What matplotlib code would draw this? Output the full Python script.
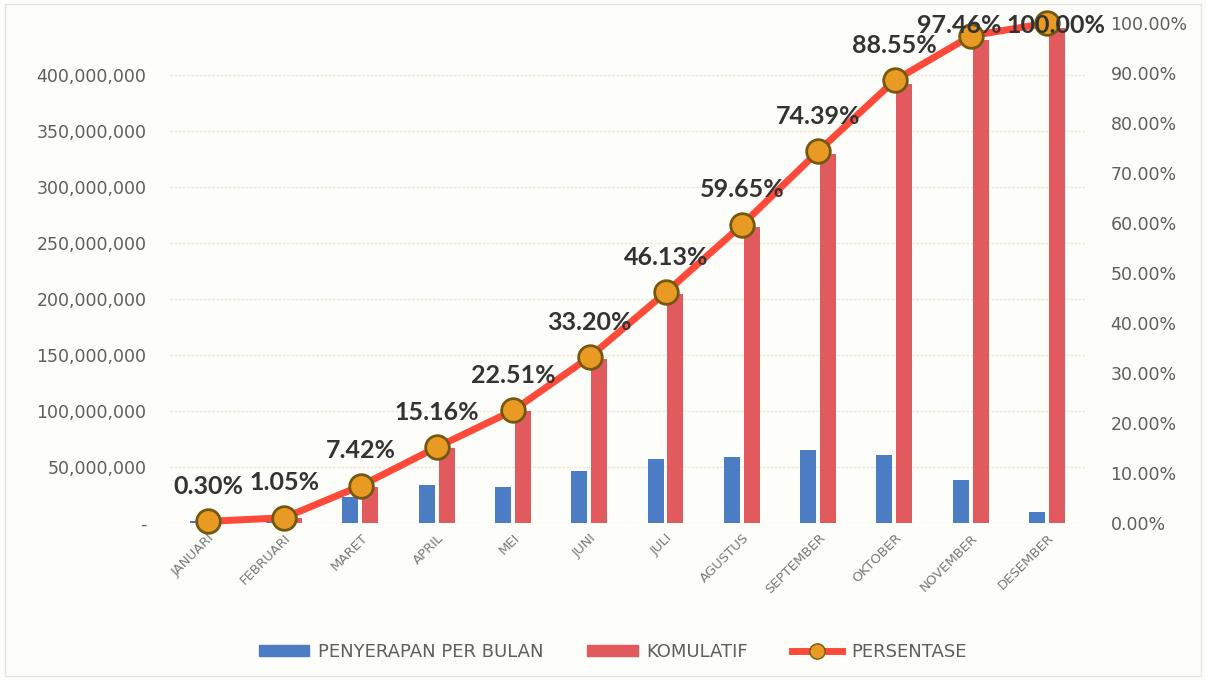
import numpy as np
import matplotlib.pyplot as plt
from matplotlib.ticker import FuncFormatter
from matplotlib.lines import Line2D
from matplotlib.patches import Patch, Rectangle

bulan = ['JANUARI', 'FEBRUARI', 'MARET', 'APRIL', 'MEI', 'JUNI', 'JULI',
         'AGUSTUS', 'SEPTEMBER', 'OKTOBER', 'NOVEMBER', 'DESEMBER']
# nilai dalam juta rupiah
penyerapan = [1.3, 3.3, 23.0, 34.0, 32.4, 46.5, 57.0, 58.8, 64.8, 61.0, 38.0, 9.8]
komulatif = [1.3, 4.6, 32.0, 67.0, 99.5, 146.7, 203.9, 263.7, 328.8, 391.4, 430.8, 442.0]
persentase = [0.30, 1.05, 7.42, 15.16, 22.51, 33.20, 46.13, 59.65, 74.39, 88.55, 97.46, 100.00]

biru = '#4C7CC4'
merah = '#E05A5E'
garis = '#FF4A3A'
teks = '#5E5E5E'

fig = plt.figure(figsize=(12.06, 6.8), dpi=100, facecolor='#FDFDF9')
ax = fig.add_axes([0.141, 0.231, 0.759, 0.735])
ax.set_facecolor('none')
fig.patches.append(Rectangle((0.004, 0.006), 0.992, 0.988, transform=fig.transFigure,
                             fill=False, edgecolor='#E4E4DA', lw=1))

x = np.arange(len(bulan))
w = 0.21
ax.bar(x - 0.135, np.array(penyerapan) * 1e6, w, color=biru, zorder=2)
ax.bar(x + 0.125, np.array(komulatif) * 1e6, w, color=merah, zorder=2)

ax.set_xlim(-0.5, len(bulan) - 0.5)
ax.set_ylim(0, 446e6)
ax.set_yticks(np.arange(0, 400e6 + 1, 50e6))
ax.yaxis.set_major_formatter(FuncFormatter(lambda v, p: '-' if v == 0 else '{:,.0f}'.format(v)))
ax.grid(axis='y', color='#EEEAD2', lw=1, ls=(0, (2, 1)), zorder=0)
for s in ax.spines.values():
    s.set_visible(False)
ax.tick_params(axis='y', length=0, pad=17, labelsize=12.5, labelcolor=teks)
ax.tick_params(axis='x', length=0, pad=6)
ax.set_xticks(x)
ax.set_xticklabels(bulan, rotation=45, ha='right', rotation_mode='anchor',
                   fontsize=9.5, color='#7A7A7A')

ax2 = ax.twinx()
ax2.set_ylim(0, 1.0)
ax2.set_yticks(np.arange(0, 1.01, 0.1))
ax2.yaxis.set_major_formatter(FuncFormatter(lambda v, p: '{:.2f}%'.format(v * 100)))
for s in ax2.spines.values():
    s.set_visible(False)
ax2.tick_params(axis='y', length=0, pad=18, labelsize=12.5, labelcolor=teks)

p = np.array(persentase) / 100
ax2.plot(x, p, color=garis, lw=5, zorder=3, clip_on=False)
ax2.plot(x, p, ls='none', marker='o', ms=17, mfc='#E99A22', mec='#735812', mew=2,
         zorder=4, clip_on=False)
# geser horizontal untuk dua label teratas supaya tidak bertumpuk
geser = {10: -0.15, 11: 0.12}
for i, (xi, pi, lab) in enumerate(zip(x, p, persentase)):
    # label di atas titik, dijepit di tepi atas area plot seperti di Excel
    yl = min(pi + 0.07, 0.995)
    ax2.annotate('{:.2f}%'.format(lab), (xi, pi), xytext=(xi + geser.get(i, 0), yl),
                 textcoords='data', ha='center', va='center', fontsize=18,
                 fontweight='bold', color='#333333', family='Lato', zorder=5,
                 annotation_clip=False)

handles = [Patch(color=biru), Patch(color=merah),
           Line2D([0], [0], color=garis, lw=5, marker='o', ms=11, mfc='#E99A22', mec='#735812')]
fig.legend(handles, ['PENYERAPAN PER BULAN', 'KOMULATIF', 'PERSENTASE'],
           loc='center', bbox_to_anchor=(0.508, 0.041), ncol=3, frameon=False,
           fontsize=13, handlelength=2.8, handleheight=0.6, columnspacing=2.4,
           handletextpad=0.5, labelcolor=teks)

fig.savefig('out.png', dpi=100, facecolor=fig.get_facecolor())
